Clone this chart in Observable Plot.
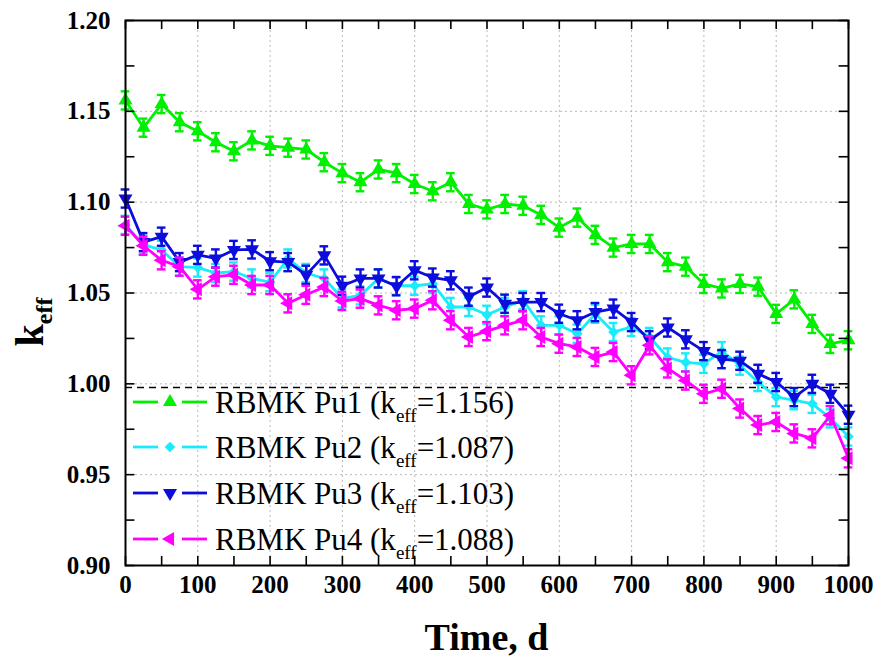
<!DOCTYPE html>
<html><head><meta charset="utf-8">
<script src="https://cdn.jsdelivr.net/npm/d3@7"></script>
<script src="https://cdn.jsdelivr.net/npm/@observablehq/plot@0.6"></script>
<style>body{margin:0;background:#fff} svg{display:block}</style>
</head><body><div id="chart"></div>
<script>
const times = [0,25,50,75,100,125,150,175,200,225,250,275,300,325,350,375,400,425,450,475,500,525,550,575,600,625,650,675,700,725,750,775,800,825,850,875,900,925,950,975,1000];
const pu1 = [1.156,1.141,1.154,1.144,1.139,1.133,1.128,1.134,1.131,1.130,1.129,1.122,1.116,1.111,1.118,1.116,1.110,1.106,1.111,1.099,1.096,1.099,1.098,1.093,1.086,1.0915,1.082,1.075,1.077,1.077,1.067,1.0645,1.055,1.0525,1.055,1.0535,1.0385,1.0465,1.033,1.022,1.024];
const pu2 = [1.0875,1.0765,1.0737,1.0645,1.064,1.061,1.0618,1.058,1.056,1.069,1.061,1.058,1.047,1.0487,1.058,1.054,1.054,1.055,1.0423,1.0423,1.038,1.0423,1.046,1.0322,1.0322,1.0276,1.0386,1.0285,1.0313,1.0258,1.0145,1.0118,1.011,1.018,1.010,1.001,0.9927,0.991,0.989,0.981,0.971];
const pu3 = [1.102,1.078,1.081,1.067,1.071,1.069,1.0737,1.074,1.0675,1.067,1.060,1.0707,1.054,1.058,1.058,1.0537,1.0625,1.0585,1.057,1.048,1.053,1.0441,1.045,1.045,1.0386,1.035,1.0395,1.0414,1.034,1.024,1.031,1.0245,1.018,1.0136,1.0127,1.0055,1.001,0.9927,1.000,0.9945,0.983];
const pu4 = [1.087,1.076,1.068,1.0645,1.052,1.059,1.060,1.0544,1.0544,1.0443,1.049,1.0533,1.0456,1.0469,1.0432,1.0405,1.0414,1.046,1.035,1.0258,1.029,1.0322,1.035,1.0258,1.0221,1.0203,1.0148,1.0175,1.0047,1.0212,1.0085,1.0018,0.9945,0.9973,0.9864,0.9773,0.979,0.9727,0.970,0.9827,0.959];
const errBar = 0.005;
const seriesNames = ["RBMK Pu1","RBMK Pu2","RBMK Pu3","RBMK Pu4"];
const seriesKeff = ["1.156","1.087","1.103","1.088"];
const seriesValues = [pu1, pu2, pu3, pu4];
const colors = ["#00f000","#18ecfa","#0c0cdc","#ff00ff"];
const symbols = ["triangle","diamond2","triangle","triangle"];
const rotations = [0,0,180,270];
const xTicks = [0,100,200,300,400,500,600,700,800,900,1000];
const xMinor = [0,50,100,150,200,250,300,350,400,450,500,550,600,650,700,750,800,850,900,950,1000];
const yTicks = [0.90,0.95,1.00,1.05,1.10,1.15,1.20];
const yMinor = [0.90,0.925,0.95,0.975,1.00,1.025,1.05,1.075,1.10,1.125,1.15,1.175,1.20];
const refLine = 0.998;

const W = 881, H = 664, mL = 125, mR = 33, mT = 20, mB = 99;

const seriesData = seriesValues.map((vals, i) => times.map((t, j) => ({t, k: vals[j], s: seriesNames[i]})));
const symR = i => symbols[i] === "diamond2" ? 4.8 : 5.2;

const marks = [
  Plot.ruleX(xTicks.slice(1, -1), {x: d => d, stroke: "#b8b8b8", strokeWidth: 1, strokeDasharray: "2,3"}),
  Plot.ruleY(yTicks.slice(1, -1), {y: d => d, stroke: "#b8b8b8", strokeWidth: 1, strokeDasharray: "2,3"}),
  Plot.ruleY([refLine], {y: d => d, stroke: "black", strokeWidth: 1.5, strokeDasharray: "7,5"})
];
seriesData.forEach((data, i) => {
  const c = colors[i];
  marks.push(
    Plot.line(data, {x: "t", y: "k", stroke: c, strokeWidth: 2.8}),
    Plot.ruleX(data, {x: "t", y1: d => d.k - errBar, y2: d => d.k + errBar, stroke: c, strokeWidth: 2.4}),
    Plot.ruleY(data, {y: d => d.k + errBar, x1: d => d.t - 6, x2: d => d.t + 6, stroke: c, strokeWidth: 2.4}),
    Plot.ruleY(data, {y: d => d.k - errBar, x1: d => d.t - 6, x2: d => d.t + 6, stroke: c, strokeWidth: 2.4}),
    Plot.dot(data, {x: "t", y: "k", fill: c, stroke: "none", symbol: symbols[i], rotate: rotations[i], r: symR(i)})
  );
});
marks.push(
  Plot.ruleX(xMinor, {x: d => d, y1: 0.90, y2: 0.905, stroke: "black", strokeWidth: 1.6}),
  Plot.ruleX(xMinor, {x: d => d, y1: 1.20, y2: 1.195, stroke: "black", strokeWidth: 1.6}),
  Plot.ruleY(yMinor, {y: d => d, x1: 0, x2: 13, stroke: "black", strokeWidth: 1.6}),
  Plot.ruleY(yMinor, {y: d => d, x1: 1000, x2: 987, stroke: "black", strokeWidth: 1.6}),
  Plot.frame({stroke: "black", strokeWidth: 2}),
  Plot.text(xTicks, {x: d => d, y: 0.90, dy: 19, text: d => String(d), fontSize: 25, fontWeight: "bold", fill: "black"}),
  Plot.text(yTicks, {x: 0, y: d => d, dx: -15, textAnchor: "end", text: d => d.toFixed(2), fontSize: 25, fontWeight: "bold", fill: "black"})
);

const svg = Plot.plot({
  width: W, height: H,
  marginLeft: mL, marginRight: mR, marginTop: mT, marginBottom: mB,
  style: {background: "white", overflow: "visible"},
  x: {domain: [0, 1000], axis: null},
  y: {domain: [0.90, 1.20], axis: null},
  marks
});
document.getElementById("chart").appendChild(svg);

const s = d3.select(svg);
// x label
s.append("text").attr("x", (mL + W - mR) / 2).attr("y", 650)
  .attr("text-anchor", "middle").attr("font-weight", "bold")
  .attr("font-size", 38).attr("fill", "black").text("Time, d");
// y label
const yl = s.append("text").attr("transform", "translate(43,322) rotate(-90)")
  .attr("text-anchor", "middle").attr("font-weight", "bold").attr("fill", "black");
yl.append("tspan").attr("font-size", 40).text("k");
yl.append("tspan").attr("font-size", 24).attr("dy", 9).text("eff");

// legend
const rowY = [402, 447, 493, 539];
seriesNames.forEach((name, i) => {
  const g = s.append("g").attr("transform", `translate(0,${rowY[i]})`);
  g.append("line").attr("x1", 133).attr("x2", 158).attr("y1", 0).attr("y2", 0).attr("stroke", colors[i]).attr("stroke-width", 2.8);
  g.append("line").attr("x1", 182).attr("x2", 207).attr("y1", 0).attr("y2", 0).attr("stroke", colors[i]).attr("stroke-width", 2.8);
  const r = symR(i);
  const sym = d3.symbol().type(symbols[i] === "diamond2" ? d3.symbolDiamond2 : d3.symbolTriangle).size(Math.PI * r * r);
  g.append("path").attr("d", sym()).attr("fill", colors[i]).attr("transform", `translate(170,0) rotate(${rotations[i]})`);
  const t = g.append("text").attr("x", 215).attr("y", 11).attr("text-anchor", "start").attr("font-size", 31).attr("fill", "black");
  t.append("tspan").text(`${name} (k`);
  t.append("tspan").attr("font-size", 19).attr("dy", 9).text("eff");
  t.append("tspan").attr("dy", -9).text(`=${seriesKeff[i]})`);
});
s.selectAll("text").style("font-family", "'Liberation Serif', 'Times New Roman', serif");
</script></body></html>
